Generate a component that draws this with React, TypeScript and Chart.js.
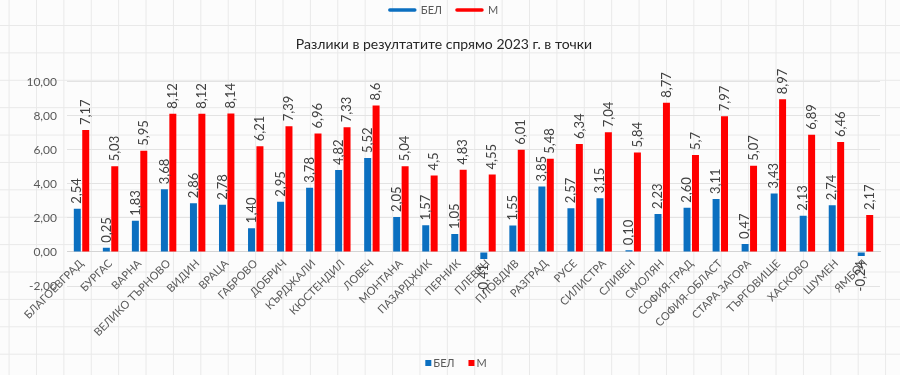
import React, { useEffect, useRef } from "react";
import { Chart, registerables } from "chart.js";

Chart.register(...registerables);

const categories = [
  "БЛАГОЕВГРАД", "БУРГАС", "ВАРНА", "ВЕЛИКО ТЪРНОВО", "ВИДИН", "ВРАЦА", "ГАБРОВО",
  "ДОБРИЧ", "КЪРДЖАЛИ", "КЮСТЕНДИЛ", "ЛОВЕЧ", "МОНТАНА", "ПАЗАРДЖИК", "ПЕРНИК",
  "ПЛЕВЕН", "ПЛОВДИВ", "РАЗГРАД", "РУСЕ", "СИЛИСТРА", "СЛИВЕН", "СМОЛЯН",
  "СОФИЯ-ГРАД", "СОФИЯ-ОБЛАСТ", "СТАРА ЗАГОРА", "ТЪРГОВИЩЕ", "ХАСКОВО", "ШУМЕН", "ЯМБОЛ",
];

const belValues = [
  2.54, 0.25, 1.83, 3.68, 2.86, 2.78, 1.40, 2.95, 3.78, 4.82, 5.52, 2.05, 1.57, 1.05,
  -0.41, 1.55, 3.85, 2.57, 3.15, 0.10, 2.23, 2.60, 3.11, 0.47, 3.43, 2.13, 2.74, -0.24,
];

const mValues = [
  7.17, 5.03, 5.95, 8.12, 8.12, 8.14, 6.21, 7.39, 6.96, 7.33, 8.6, 5.04, 4.5, 4.83,
  4.55, 6.01, 5.48, 6.34, 7.04, 5.84, 8.77, 5.7, 7.97, 5.07, 8.97, 6.89, 6.46, 2.17,
];

const seriesNames = ["БЕЛ", "М"];
const seriesColors = ["#0B6FC0", "#FF0000"];
const titleText = "Разлики в резултатите спрямо 2023 г. в точки";
const yMin = -2;
const yMax = 10;
const yStep = 2;

const FONT = "Lato, 'Open Sans', sans-serif";
const GRAY = "#595959";

const formatters = [
  (v: number) => v.toFixed(2).replace(".", ","),
  (v: number) => String(v).replace(".", ","),
];

const dataLabelsPlugin = {
  id: "dataLabels",
  afterDatasetsDraw(chart: any) {
    const ctx = chart.ctx;
    chart.data.datasets.forEach((ds: any, di: number) => {
      const meta = chart.getDatasetMeta(di);
      meta.data.forEach((bar: any, i: number) => {
        const v = ds.data[i];
        const txt = formatters[di](v);
        ctx.save();
        ctx.translate(bar.x, bar.y);
        ctx.rotate(-Math.PI / 2);
        ctx.font = `13px ${FONT}`;
        ctx.fillStyle = "#404040";
        ctx.textBaseline = "middle";
        if (v >= 0) {
          ctx.textAlign = "left";
          ctx.fillText(txt, 5, 0);
        } else {
          ctx.textAlign = "right";
          ctx.fillText(txt, -5, 0);
        }
        ctx.restore();
      });
    });
  },
};

const legendsPlugin = {
  id: "customLegends",
  afterDraw(chart: any) {
    const ctx = chart.ctx;
    const ds = chart.data.datasets;
    ctx.save();
    ctx.font = `11px ${FONT}`;
    ctx.textBaseline = "middle";
    ctx.textAlign = "left";
    // top legend (line markers)
    const lineLen = 29;
    const gapTxt = 4;
    const itemGap = 13;
    let widths = ds.map((d: any) => lineLen + gapTxt + ctx.measureText(d.label).width);
    let total = widths.reduce((a: number, b: number) => a + b, 0) + itemGap * (ds.length - 1);
    let x = chart.width / 2 - 7 - total / 2;
    let y = 10;
    ds.forEach((d: any, i: number) => {
      ctx.strokeStyle = d.backgroundColor;
      ctx.lineWidth = 3.5;
      ctx.lineCap = "round";
      ctx.beginPath();
      ctx.moveTo(x + 2, y);
      ctx.lineTo(x + lineLen - 2, y);
      ctx.stroke();
      ctx.fillStyle = GRAY;
      ctx.fillText(d.label, x + lineLen + gapTxt, y);
      x += widths[i] + itemGap;
    });
    // bottom legend (square markers)
    const box = 6;
    const gap2 = 2;
    const itemGap2 = 14;
    widths = ds.map((d: any) => box + gap2 + ctx.measureText(d.label).width);
    total = widths.reduce((a: number, b: number) => a + b, 0) + itemGap2 * (ds.length - 1);
    x = chart.width / 2 + 6 - total / 2;
    y = 363;
    ds.forEach((d: any, i: number) => {
      ctx.fillStyle = d.backgroundColor;
      ctx.fillRect(x, y - box / 2, box, box);
      ctx.fillStyle = GRAY;
      ctx.fillText(d.label, x + box + gap2, y);
      x += widths[i] + itemGap2;
    });
    ctx.restore();
  },
};

export default function App() {
  const canvasRef = useRef<HTMLCanvasElement | null>(null);

  useEffect(() => {
    if (!canvasRef.current) return;
    const chart = new Chart(canvasRef.current, {
      type: "bar",
      data: {
        labels: categories,
        datasets: [
          {
            label: seriesNames[0],
            data: belValues,
            backgroundColor: seriesColors[0],
            categoryPercentage: 0.58,
            barPercentage: 0.83,
          },
          {
            label: seriesNames[1],
            data: mValues,
            backgroundColor: seriesColors[1],
            categoryPercentage: 0.58,
            barPercentage: 0.83,
          },
        ],
      },
      options: {
        animation: false,
        responsive: false,
        maintainAspectRatio: false,
        layout: { padding: { top: 28, bottom: 89, left: 8, right: 20 } },
        plugins: {
          legend: { display: false },
          tooltip: { enabled: false },
          title: {
            display: true,
            text: titleText,
            color: "#262626",
            font: { family: FONT, size: 14, weight: "normal" },
            padding: { top: 8, bottom: 29 },
          },
        },
        scales: {
          x: {
            position: { y: 0 } as any,
            grid: { display: false, drawTicks: false },
            border: { display: true, color: "#d4d4d4" },
            ticks: {
              autoSkip: false,
              maxRotation: 45,
              minRotation: 45,
              color: GRAY,
              font: { family: FONT, size: 11 },
              padding: 5,
            },
          },
          y: {
            min: yMin,
            max: yMax,
            ticks: {
              stepSize: yStep,
              color: GRAY,
              font: { family: FONT, size: 12 },
              padding: 10,
              callback: (v: any) => Number(v).toFixed(2).replace(".", ","),
            },
            grid: { color: "#e3e3e3", drawTicks: false },
            border: { display: false },
            afterFit: (s: any) => {
              s.width = 59;
            },
          },
        },
      },
      plugins: [dataLabelsPlugin, legendsPlugin],
    });
    return () => chart.destroy();
  }, []);

  return (
    <div
      style={{
        position: "absolute",
        left: 0,
        top: 0,
        width: 900,
        height: 375,
        backgroundColor: "#fcfcfc",
        backgroundImage:
          "linear-gradient(to right, #e9e9e9 1px, transparent 1px), linear-gradient(to bottom, #e9e9e9 1px, transparent 1px)",
        backgroundSize: "27.4px 27.4px",
        backgroundPosition: "8.6px 25px",
      }}
    >
      <canvas ref={canvasRef} width={900} height={375} style={{ display: "block" }} />
    </div>
  );
}
